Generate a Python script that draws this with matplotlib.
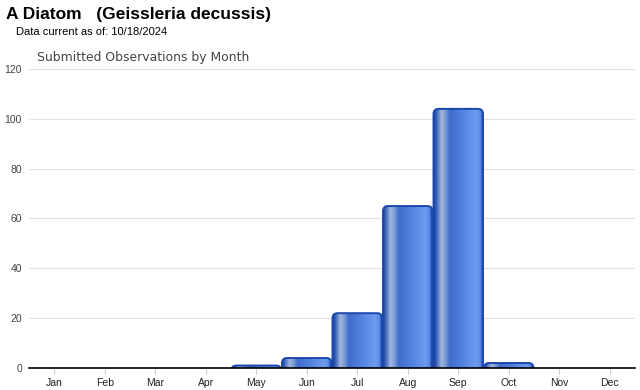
import numpy as np
import matplotlib.pyplot as plt
from matplotlib.patches import FancyBboxPatch
from matplotlib.colors import LinearSegmentedColormap

plt.rcParams['font.family'] = ['Liberation Sans', 'DejaVu Sans']

months = ["Jan", "Feb", "Mar", "Apr", "May", "Jun", "Jul", "Aug", "Sep", "Oct", "Nov", "Dec"]
counts = [0, 0, 0, 0, 1, 4, 22, 65, 104, 2, 0, 0]
yticks = [0, 20, 40, 60, 80, 100, 120]

# horizontal "cylinder" shading of the bars
stops = [(0.0, "#1a44a5"), (0.05, "#3a62b8"), (0.15, "#a3b8dc"), (0.22, "#7f9fd8"),
         (0.32, "#3e6ccb"), (0.6, "#5585e2"), (0.85, "#6d9cf0"), (0.93, "#5a8ae6"),
         (0.97, "#2552bd"), (1.0, "#1a44a5")]
cmap = LinearSegmentedColormap.from_list("bar", stops)
grad = np.linspace(0, 1, 256).reshape(1, -1)

fig = plt.figure(figsize=[6.4, 3.9], dpi=100)
ax = fig.add_axes([29 / 640, 1 - 368 / 390, 606 / 640, 299 / 390])
ax.set_xlim(-0.5, 11.5)
ax.set_ylim(0, 120)

for y in yticks[1:]:
    ax.axhline(y, color="#e2e2e2", lw=0.9, zorder=0)

px_x = 606 / 12.0
px_y = 299 / 120.0
aspect = (1 / px_y) / (1 / px_x)
w = 0.98
for i, v in enumerate(counts):
    if v <= 0:
        continue
    x0 = i - w / 2
    patch = FancyBboxPatch((x0, -6), w, v + 6,
                           boxstyle="round,pad=0,rounding_size=0.1",
                           mutation_aspect=aspect, facecolor="none",
                           edgecolor="#1b48aa", lw=1.4, zorder=3)
    ax.add_patch(patch)
    im = ax.imshow(grad, cmap=cmap, aspect="auto", extent=[x0, x0 + w, -6, v],
                   zorder=2, interpolation="bilinear")
    im.set_clip_path(patch)

ax.set_xlim(-0.5, 11.5)
ax.set_ylim(0, 120)

for s in ["top", "right", "left"]:
    ax.spines[s].set_visible(False)
ax.spines["bottom"].set_color("black")
ax.spines["bottom"].set_linewidth(1.2)
ax.spines["bottom"].set_zorder(5)

ax.set_xticks(range(12))
ax.set_xticklabels(months, fontsize=7.5, color="#222222")
ax.set_yticks(yticks)
ax.set_yticklabels([str(t) for t in yticks], fontsize=7.5, color="#444444")
ax.tick_params(axis="y", length=0, pad=5)
ax.tick_params(axis="x", length=4, color="#cccccc", pad=3)

fig.text(6 / 640, 1 - 15 / 390, "A Diatom   (Geissleria decussis)", fontsize=12.5,
         fontweight="bold", va="center", ha="left")
fig.text(16 / 640, 1 - 32 / 390, "Data current as of: 10/18/2024", fontsize=8,
         va="center", ha="left")
fig.text(37 / 640, 1 - 58 / 390, "Submitted Observations by Month", fontsize=8.9,
         color="#444444", va="center", ha="left", family=["DejaVu Sans"])

plt.savefig("out.png")
